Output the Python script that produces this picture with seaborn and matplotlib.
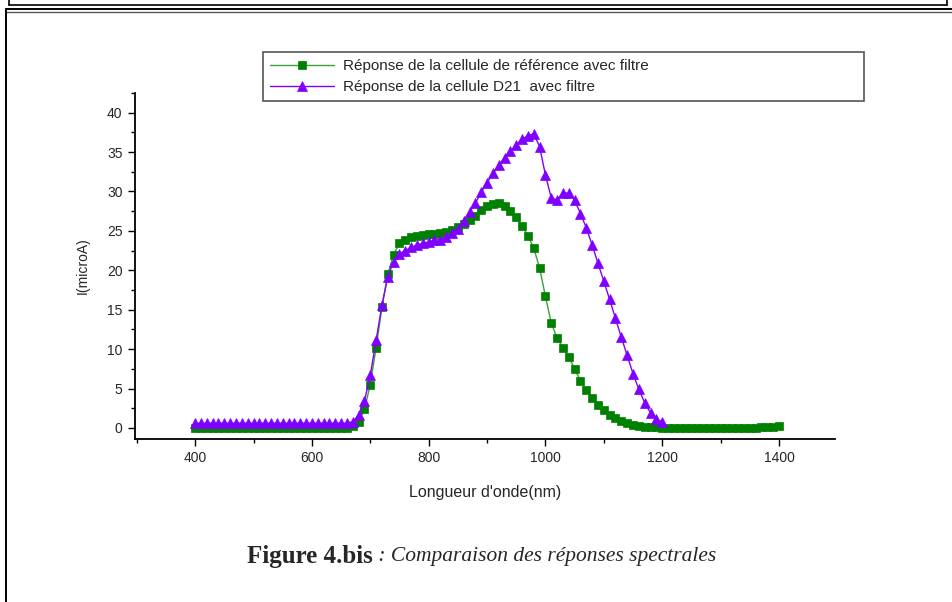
import matplotlib
matplotlib.use("Agg")
import matplotlib.pyplot as plt
from matplotlib.lines import Line2D
from matplotlib.ticker import MultipleLocator
import seaborn as sns
import pandas as pd

# ---------------- data ----------------
wl_ref = list(range(400, 1410, 10))
flat_ref = [0.05] * 27  # 400..660
i_ref = flat_ref + [
    0.3, 0.7, 2.35, 5.5, 10.2, 15.3, 19.5, 22.0, 23.4, 23.9,      # 670-760
    24.2, 24.4, 24.5, 24.6, 24.6, 24.7, 24.8, 25.1, 25.5, 25.9,   # 770-860
    26.4, 26.9, 27.6, 28.1, 28.4, 28.5, 28.1, 27.5, 26.7, 25.6,   # 870-960
    24.4, 22.8, 20.3, 16.7, 13.3, 11.4, 10.2, 9.0, 7.5, 6.0,      # 970-1060
    4.8, 3.8, 2.9, 2.3, 1.7, 1.2, 0.86, 0.6, 0.35, 0.25,          # 1070-1160
    0.15, 0.1, 0.08, 0.05, 0.05, 0.05, 0.05, 0.05, 0.05, 0.05,    # 1170-1260
    0.05, 0.05, 0.05, 0.05, 0.05, 0.05, 0.05, 0.05, 0.05, 0.05,   # 1270-1360
    0.06, 0.08, 0.15, 0.25,                                        # 1370-1400
]

wl_d21 = list(range(400, 1210, 10))
flat_d21 = [0.6] * 27  # 400..660
i_d21 = flat_d21 + [
    0.8, 1.6, 3.4, 6.7, 11.1, 15.6, 19.2, 21.1, 22.1, 22.5,       # 670-760
    22.9, 23.2, 23.4, 23.6, 23.8, 23.9, 24.2, 24.7, 25.3, 26.3,   # 770-860
    27.4, 28.5, 29.9, 31.1, 32.3, 33.3, 34.3, 35.1, 35.9, 36.6,   # 870-960
    37.1, 37.3, 35.7, 32.1, 29.2, 28.9, 29.8, 29.8, 28.9, 27.2,   # 970-1060
    25.4, 23.2, 20.9, 18.6, 16.3, 13.9, 11.5, 9.2, 6.9, 4.9,      # 1070-1160
    3.2, 1.9, 1.1, 0.8,                                            # 1170-1200
]

label_ref = "Réponse de la cellule de référence avec filtre"
label_d21 = "Réponse de la cellule D21  avec filtre"
x_label = "Longueur d'onde(nm)"
y_label = "I(microA)"
caption_bold = "Figure 4.bis"
caption_ital = " : Comparaison des réponses spectrales"

# ---------------- style ----------------
sns.set_style("white")
plt.rcParams["font.family"] = ["Liberation Sans", "DejaVu Sans"]

fig = plt.figure(figsize=(9.52, 6.02), dpi=100)
ax = fig.add_axes([0.1418, 0.2708, 0.7353, 0.5748])

df_ref = pd.DataFrame({"wl": wl_ref, "I": i_ref})
df_d21 = pd.DataFrame({"wl": wl_d21, "I": i_d21})

sns.lineplot(data=df_ref, x="wl", y="I", ax=ax, color="#3aa03a", lw=1.0,
             marker="s", markersize=5.8, markerfacecolor="#008000",
             markeredgecolor="#008000", markeredgewidth=0.5, label=label_ref)
sns.lineplot(data=df_d21, x="wl", y="I", ax=ax, color="#8000ff", lw=1.0,
             marker="^", markersize=7.5, markerfacecolor="#8000ff",
             markeredgecolor="#8000ff", markeredgewidth=0.5, label=label_d21)

ax.set_xlim(297, 1496)
ax.set_ylim(-1.4, 42.5)
ax.xaxis.set_major_locator(MultipleLocator(200))
ax.xaxis.set_minor_locator(MultipleLocator(100))
ax.yaxis.set_major_locator(MultipleLocator(5))
ax.yaxis.set_minor_locator(MultipleLocator(2.5))
ax.tick_params(axis="both", which="major", direction="out", length=5,
               width=1.0, labelsize=10, color="black", pad=4,
               bottom=True, left=True)
ax.tick_params(axis="both", which="minor", direction="out", length=3,
               width=1.0, color="black", bottom=True, left=True)
for s in ["top", "right"]:
    ax.spines[s].set_visible(False)
for s in ["left", "bottom"]:
    ax.spines[s].set_color("black")
    ax.spines[s].set_linewidth(1.3)

ax.set_xlabel(x_label, fontsize=11.5, labelpad=14)
ax.set_ylabel(y_label, fontsize=10, labelpad=12)

leg = ax.legend(loc="lower left", bbox_to_anchor=(263 / 952, 1 - 101 / 602,
                (864 - 263) / 952, 46 / 602),
                bbox_transform=fig.transFigure, mode="expand",
                fontsize=11, frameon=True, fancybox=False, handlelength=4.2,
                borderpad=0.45, labelspacing=0.45, handletextpad=0.6,
                borderaxespad=0)
leg.get_frame().set_edgecolor("#555555")
leg.get_frame().set_linewidth(1.2)
leg.get_frame().set_alpha(1)

# caption
cy = 1 - 556 / 602
fig.text(373 / 952, cy, caption_bold, ha="right", va="center",
         fontsize=18, fontweight="bold",
         family=["Liberation Serif", "DejaVu Serif"])
fig.text(373 / 952, cy, caption_ital, ha="left", va="center",
         fontsize=15.5, fontstyle="italic",
         family=["Liberation Serif", "DejaVu Serif"])

# page frame lines
def fline(xs, ys, lw=1.2, color="black"):
    fig.add_artist(Line2D([x / 952 for x in xs], [1 - y / 602 for y in ys],
                          lw=lw, color=color, transform=fig.transFigure))

fline([9, 947], [5, 5], lw=1.2)
fline([9, 9], [0, 5], lw=1.2)
fline([947, 947], [0, 5], lw=1.2)
fline([6, 952], [9, 9], lw=1.4)
fline([6, 952], [11.5, 11.5], lw=1.0, color="#555555")
fline([6, 6], [9, 602], lw=1.4)

fig.savefig("out.png", dpi=100)
